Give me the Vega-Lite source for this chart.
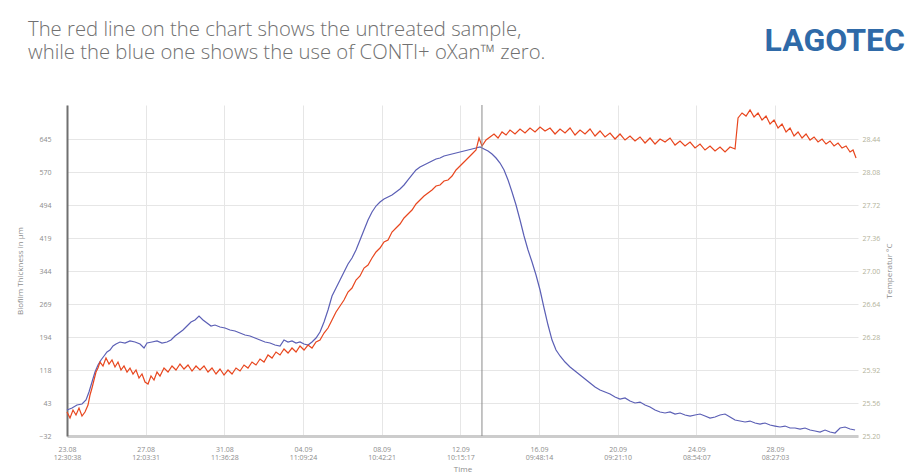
{
  "$schema": "https://vega.github.io/schema/vega-lite/v6.json",
  "width": 791,
  "height": 331,
  "autosize": {"type": "none"},
  "padding": {"left": 67, "top": 105, "right": 51, "bottom": 38},
  "background": "#ffffff",
  "config": {"view": {"stroke": null}, "font": "Open Sans", "axis": {"labelOverlap": false}},
  "title": {
    "text": ["The red line on the chart shows the untreated sample,", "while the blue one shows the use of CONTI+ oXan™ zero."],
    "anchor": "start",
    "frame": "group",
    "dx": -39,
    "offset": -38,
    "font": "Open Sans",
    "fontSize": 20.3,
    "fontWeight": 300,
    "color": "#707070",
    "lineHeight": 23
  },
  "datasets": {
    "untreated": [
      {"d":0,"v":22.7},{"d":0.152,"v":9.0},{"d":0.304,"v":27.2},{"d":0.455,"v":15.8},{"d":0.607,"v":31.8},{"d":0.759,"v":13.5},{"d":0.911,"v":22.7},{"d":1.063,"v":38.6},{"d":1.164,"v":61.4},{"d":1.265,"v":77.3},{"d":1.366,"v":95.6},{"d":1.468,"v":113.8},{"d":1.569,"v":122.9},{"d":1.670,"v":136.6},{"d":1.822,"v":127.5},{"d":1.974,"v":145.7},{"d":2.126,"v":132.0},{"d":2.277,"v":141.2},{"d":2.429,"v":125.2},{"d":2.581,"v":136.6},{"d":2.733,"v":118.4},{"d":2.885,"v":127.5},{"d":3.037,"v":113.8},{"d":3.188,"v":122.9},{"d":3.340,"v":109.3},{"d":3.492,"v":118.4},{"d":3.644,"v":100.1},{"d":3.796,"v":109.3},{"d":3.948,"v":91.0},{"d":4.099,"v":86.5},{"d":4.251,"v":104.7},{"d":4.403,"v":95.6},{"d":4.555,"v":113.8},{"d":4.707,"v":104.7},{"d":4.909,"v":122.9},{"d":5.112,"v":113.8},{"d":5.314,"v":127.5},{"d":5.516,"v":118.4},{"d":5.719,"v":132.0},{"d":5.921,"v":120.6},{"d":6.124,"v":129.8},{"d":6.326,"v":116.1},{"d":6.529,"v":127.5},{"d":6.731,"v":118.4},{"d":6.934,"v":127.5},{"d":7.136,"v":113.8},{"d":7.338,"v":122.9},{"d":7.541,"v":109.3},{"d":7.743,"v":120.6},{"d":7.946,"v":107.0},{"d":8.148,"v":118.4},{"d":8.351,"v":109.3},{"d":8.553,"v":122.9},{"d":8.756,"v":116.1},{"d":8.958,"v":129.8},{"d":9.160,"v":122.9},{"d":9.363,"v":136.6},{"d":9.565,"v":129.8},{"d":9.768,"v":143.4},{"d":9.970,"v":136.6},{"d":10.173,"v":152.6},{"d":10.375,"v":145.7},{"d":10.577,"v":159.4},{"d":10.780,"v":152.6},{"d":10.982,"v":166.2},{"d":11.185,"v":157.1},{"d":11.387,"v":168.5},{"d":11.590,"v":159.4},{"d":11.792,"v":173.1},{"d":11.995,"v":163.9},{"d":12.197,"v":175.3},{"d":12.399,"v":168.5},{"d":12.602,"v":182.2},{"d":12.804,"v":186.7},{"d":13.007,"v":202.7},{"d":13.209,"v":214.1},{"d":13.412,"v":232.3},{"d":13.614,"v":250.6},{"d":13.817,"v":264.2},{"d":14.019,"v":277.9},{"d":14.221,"v":296.1},{"d":14.424,"v":305.2},{"d":14.626,"v":323.5},{"d":14.829,"v":332.6},{"d":15.031,"v":350.8},{"d":15.234,"v":357.7},{"d":15.436,"v":373.6},{"d":15.638,"v":387.3},{"d":15.841,"v":396.4},{"d":16.043,"v":410.1},{"d":16.246,"v":414.6},{"d":16.448,"v":432.9},{"d":16.651,"v":442.0},{"d":16.853,"v":451.1},{"d":17.056,"v":464.8},{"d":17.258,"v":473.9},{"d":17.460,"v":483.0},{"d":17.663,"v":496.7},{"d":17.865,"v":505.8},{"d":18.068,"v":514.9},{"d":18.270,"v":521.8},{"d":18.473,"v":528.6},{"d":18.675,"v":537.7},{"d":18.878,"v":540.0},{"d":19.080,"v":549.1},{"d":19.282,"v":551.4},{"d":19.485,"v":560.5},{"d":19.687,"v":574.2},{"d":19.890,"v":583.3},{"d":20.092,"v":592.4},{"d":20.295,"v":601.5},{"d":20.497,"v":610.6},{"d":20.699,"v":619.7},{"d":20.851,"v":647.1},{"d":21.003,"v":628.9},{"d":21.206,"v":642.5},{"d":21.408,"v":649.4},{"d":21.610,"v":656.2},{"d":21.813,"v":647.1},{"d":22.015,"v":660.8},{"d":22.218,"v":653.9},{"d":22.420,"v":665.3},{"d":22.673,"v":656.2},{"d":22.926,"v":667.6},{"d":23.179,"v":658.5},{"d":23.432,"v":669.9},{"d":23.685,"v":660.8},{"d":23.939,"v":672.2},{"d":24.192,"v":663.1},{"d":24.445,"v":669.9},{"d":24.698,"v":656.2},{"d":24.951,"v":667.6},{"d":25.204,"v":658.5},{"d":25.457,"v":669.9},{"d":25.710,"v":653.9},{"d":25.963,"v":665.3},{"d":26.216,"v":656.2},{"d":26.469,"v":667.6},{"d":26.722,"v":651.7},{"d":26.975,"v":663.1},{"d":27.228,"v":649.4},{"d":27.481,"v":658.5},{"d":27.734,"v":644.8},{"d":27.987,"v":656.2},{"d":28.240,"v":642.5},{"d":28.493,"v":651.7},{"d":28.746,"v":640.3},{"d":28.999,"v":649.4},{"d":29.253,"v":635.7},{"d":29.506,"v":647.1},{"d":29.759,"v":633.4},{"d":30.012,"v":644.8},{"d":30.265,"v":638.0},{"d":30.518,"v":647.1},{"d":30.771,"v":631.1},{"d":31.024,"v":640.3},{"d":31.277,"v":628.9},{"d":31.530,"v":638.0},{"d":31.783,"v":624.3},{"d":32.036,"v":633.4},{"d":32.289,"v":619.7},{"d":32.542,"v":628.9},{"d":32.795,"v":617.5},{"d":33.048,"v":626.6},{"d":33.301,"v":615.2},{"d":33.554,"v":626.6},{"d":33.807,"v":622.0},{"d":33.959,"v":692.7},{"d":34.162,"v":704.1},{"d":34.364,"v":697.2},{"d":34.567,"v":710.9},{"d":34.769,"v":695.0},{"d":34.972,"v":704.1},{"d":35.174,"v":688.1},{"d":35.376,"v":697.2},{"d":35.579,"v":679.0},{"d":35.781,"v":688.1},{"d":35.984,"v":669.9},{"d":36.186,"v":679.0},{"d":36.389,"v":660.8},{"d":36.591,"v":669.9},{"d":36.793,"v":651.7},{"d":36.996,"v":660.8},{"d":37.198,"v":647.1},{"d":37.401,"v":656.2},{"d":37.603,"v":642.5},{"d":37.806,"v":649.4},{"d":38.008,"v":638.0},{"d":38.211,"v":644.8},{"d":38.413,"v":633.4},{"d":38.615,"v":640.3},{"d":38.818,"v":628.9},{"d":39.020,"v":635.7},{"d":39.223,"v":624.3},{"d":39.425,"v":628.9},{"d":39.628,"v":615.2},{"d":39.779,"v":619.7},{"d":39.931,"v":601.5}
    ],
    "treated": [
      {"d":0,"v":27.2},{"d":0.253,"v":31.8},{"d":0.506,"v":38.6},{"d":0.759,"v":40.9},{"d":0.962,"v":50.0},{"d":1.113,"v":68.2},{"d":1.265,"v":91.0},{"d":1.417,"v":113.8},{"d":1.569,"v":129.8},{"d":1.721,"v":141.2},{"d":1.873,"v":150.3},{"d":2.024,"v":159.4},{"d":2.176,"v":163.9},{"d":2.328,"v":173.1},{"d":2.480,"v":177.6},{"d":2.682,"v":182.2},{"d":2.935,"v":179.9},{"d":3.188,"v":184.5},{"d":3.441,"v":182.2},{"d":3.695,"v":177.6},{"d":3.897,"v":168.5},{"d":4.049,"v":179.9},{"d":4.302,"v":182.2},{"d":4.555,"v":184.5},{"d":4.808,"v":179.9},{"d":5.061,"v":182.2},{"d":5.263,"v":186.7},{"d":5.466,"v":195.9},{"d":5.668,"v":202.7},{"d":5.871,"v":209.5},{"d":6.073,"v":218.6},{"d":6.276,"v":227.8},{"d":6.478,"v":232.3},{"d":6.681,"v":241.4},{"d":6.883,"v":232.3},{"d":7.085,"v":225.5},{"d":7.288,"v":218.6},{"d":7.490,"v":220.9},{"d":7.743,"v":216.4},{"d":7.996,"v":214.1},{"d":8.249,"v":209.5},{"d":8.502,"v":207.3},{"d":8.756,"v":202.7},{"d":9.009,"v":198.1},{"d":9.262,"v":195.9},{"d":9.515,"v":191.3},{"d":9.768,"v":186.7},{"d":10.021,"v":182.2},{"d":10.274,"v":179.9},{"d":10.527,"v":175.3},{"d":10.780,"v":173.1},{"d":10.982,"v":186.7},{"d":11.185,"v":182.2},{"d":11.387,"v":184.5},{"d":11.590,"v":179.9},{"d":11.792,"v":182.2},{"d":11.995,"v":177.6},{"d":12.197,"v":175.3},{"d":12.399,"v":182.2},{"d":12.602,"v":191.3},{"d":12.804,"v":205.0},{"d":13.007,"v":227.8},{"d":13.209,"v":255.1},{"d":13.412,"v":287.0},{"d":13.614,"v":305.2},{"d":13.817,"v":323.5},{"d":14.019,"v":341.7},{"d":14.221,"v":359.9},{"d":14.424,"v":373.6},{"d":14.626,"v":391.8},{"d":14.829,"v":414.6},{"d":15.031,"v":437.4},{"d":15.234,"v":460.2},{"d":15.436,"v":478.5},{"d":15.638,"v":492.1},{"d":15.841,"v":501.2},{"d":16.043,"v":508.1},{"d":16.246,"v":512.6},{"d":16.448,"v":517.2},{"d":16.651,"v":524.0},{"d":16.853,"v":530.9},{"d":17.056,"v":540.0},{"d":17.258,"v":551.4},{"d":17.460,"v":562.8},{"d":17.663,"v":574.2},{"d":17.865,"v":581.0},{"d":18.068,"v":585.6},{"d":18.270,"v":590.1},{"d":18.473,"v":594.7},{"d":18.675,"v":599.2},{"d":18.878,"v":601.5},{"d":19.080,"v":606.1},{"d":19.282,"v":608.4},{"d":19.485,"v":610.6},{"d":19.687,"v":612.9},{"d":19.890,"v":615.2},{"d":20.092,"v":617.5},{"d":20.295,"v":619.7},{"d":20.497,"v":622.0},{"d":20.699,"v":624.3},{"d":20.902,"v":626.6},{"d":21.104,"v":622.0},{"d":21.307,"v":617.5},{"d":21.509,"v":610.6},{"d":21.712,"v":601.5},{"d":21.914,"v":590.1},{"d":22.117,"v":574.2},{"d":22.319,"v":551.4},{"d":22.521,"v":524.0},{"d":22.724,"v":494.4},{"d":22.926,"v":460.2},{"d":23.129,"v":423.8},{"d":23.331,"v":391.8},{"d":23.534,"v":364.5},{"d":23.736,"v":334.9},{"d":23.939,"v":300.7},{"d":24.141,"v":259.7},{"d":24.343,"v":220.9},{"d":24.546,"v":186.7},{"d":24.748,"v":163.9},{"d":24.951,"v":150.3},{"d":25.204,"v":136.6},{"d":25.457,"v":125.2},{"d":25.710,"v":116.1},{"d":25.963,"v":107.0},{"d":26.216,"v":97.9},{"d":26.469,"v":88.7},{"d":26.722,"v":79.6},{"d":26.975,"v":72.8},{"d":27.228,"v":68.2},{"d":27.481,"v":63.7},{"d":27.734,"v":56.8},{"d":27.987,"v":52.3},{"d":28.240,"v":54.6},{"d":28.493,"v":47.7},{"d":28.746,"v":43.2},{"d":28.999,"v":45.4},{"d":29.253,"v":38.6},{"d":29.506,"v":34.0},{"d":29.759,"v":27.2},{"d":30.012,"v":22.7},{"d":30.265,"v":20.4},{"d":30.518,"v":22.7},{"d":30.771,"v":18.1},{"d":31.024,"v":20.4},{"d":31.277,"v":15.8},{"d":31.530,"v":13.5},{"d":31.783,"v":15.8},{"d":32.036,"v":18.1},{"d":32.289,"v":13.5},{"d":32.542,"v":9.0},{"d":32.795,"v":11.3},{"d":33.048,"v":15.8},{"d":33.301,"v":18.1},{"d":33.554,"v":11.3},{"d":33.807,"v":4.4},{"d":34.060,"v":2.1},{"d":34.314,"v":-0.1},{"d":34.567,"v":2.1},{"d":34.820,"v":-2.4},{"d":35.073,"v":-4.7},{"d":35.326,"v":-2.4},{"d":35.579,"v":-7.0},{"d":35.832,"v":-9.3},{"d":36.085,"v":-11.5},{"d":36.338,"v":-9.3},{"d":36.591,"v":-13.8},{"d":36.844,"v":-13.8},{"d":37.097,"v":-16.1},{"d":37.350,"v":-13.8},{"d":37.603,"v":-18.4},{"d":37.856,"v":-20.6},{"d":38.109,"v":-22.9},{"d":38.362,"v":-18.4},{"d":38.615,"v":-22.9},{"d":38.868,"v":-25.2},{"d":39.122,"v":-13.8},{"d":39.375,"v":-11.5},{"d":39.628,"v":-16.1},{"d":39.881,"v":-18.4}
    ]
  },
  "layer": [
    {
      "layer": [
        {
          "data": {"name": "treated"},
          "mark": {"type": "line", "color": "#5b5fb5", "strokeWidth": 1.2},
          "encoding": {
            "x": {
              "field": "d", "type": "quantitative", "title": "Time",
              "scale": {"domain": [0, 40.03], "nice": false, "zero": false},
              "axis": {
                "title": "Time",
                "values": [0, 3.98117, 7.96238, 11.94359, 15.9248, 19.90601, 23.88722, 27.86843, 31.84964, 35.83085],
                "labelExpr": "[timeFormat(time(datetime(2021,7,23,12,30,38)) + round(datum.value*86400)*1000, '%d.%m'), timeFormat(time(datetime(2021,7,23,12,30,38)) + round(datum.value*86400)*1000, '%H:%M:%S')]",
                "labelFontSize": 7, "labelColor": "#8c8c8c", "labelLineHeight": 8, "labelPadding": 9,
                "labelFlush": false, "labelOverlap": false,
                "domainColor": "#cccccc", "domainWidth": 3,
                "ticks": false,
                "grid": true, "gridColor": "#e6e6e6",
                "titleFontSize": 8, "titleColor": "#8c8c8c", "titleFontWeight": "normal", "titlePadding": 5
              }
            },
            "y": {
              "field": "v", "type": "quantitative", "title": "Biofilm Thickness in µm",
              "scale": {"domain": [-32, 722.3], "nice": false, "zero": false},
              "axis": {
                "title": "Biofilm Thickness in µm",
                "values": [-32, 43.2, 118.4, 193.6, 268.8, 344, 419.2, 494.4, 569.6, 644.8],
                "format": "d",
                "labelOverlap": false,
                "labelFontSize": 7, "labelColor": "#8c8c8c", "labelPadding": 16,
                "domainColor": "#707070", "domainWidth": 2,
                "ticks": false,
                "grid": true, "gridColor": "#e6e6e6",
                "titleFontSize": 8, "titleColor": "#8c8c8c", "titleFontWeight": "normal", "titlePadding": 14
              }
            }
          }
        },
        {
          "data": {"name": "untreated"},
          "mark": {"type": "line", "color": "#e8461e", "strokeWidth": 1.2},
          "encoding": {
            "x": {
              "field": "d", "type": "quantitative", "title": "Time",
              "axis": {
                "title": "Time",
                "values": [0, 3.98117, 7.96238, 11.94359, 15.9248, 19.90601, 23.88722, 27.86843, 31.84964, 35.83085],
                "labelExpr": "[timeFormat(time(datetime(2021,7,23,12,30,38)) + round(datum.value*86400)*1000, '%d.%m'), timeFormat(time(datetime(2021,7,23,12,30,38)) + round(datum.value*86400)*1000, '%H:%M:%S')]",
                "labelFontSize": 7, "labelColor": "#8c8c8c", "labelLineHeight": 8, "labelPadding": 9,
                "labelFlush": false, "labelOverlap": false,
                "domainColor": "#cccccc", "domainWidth": 3,
                "ticks": false,
                "grid": true, "gridColor": "#e6e6e6",
                "titleFontSize": 8, "titleColor": "#8c8c8c", "titleFontWeight": "normal", "titlePadding": 5
              }
            },
            "y": {
              "field": "v", "type": "quantitative", "title": "Biofilm Thickness in µm",
              "axis": {
                "title": "Biofilm Thickness in µm",
                "values": [-32, 43.2, 118.4, 193.6, 268.8, 344, 419.2, 494.4, 569.6, 644.8],
                "format": "d",
                "labelOverlap": false,
                "labelFontSize": 7, "labelColor": "#8c8c8c", "labelPadding": 16,
                "domainColor": "#707070", "domainWidth": 2,
                "ticks": false,
                "grid": true, "gridColor": "#e6e6e6",
                "titleFontSize": 8, "titleColor": "#8c8c8c", "titleFontWeight": "normal", "titlePadding": 14
              }
            }
          }
        },
        {
          "data": {"values": [{"d": 21.0}]},
          "mark": {"type": "rule", "color": "#8a8a8a", "strokeWidth": 1},
          "encoding": {"x": {"field": "d", "type": "quantitative", "title": "Time"}}
        }
      ]
    },
    {
      "layer": [
        {
          "data": {"values": [{"t": 25.2}, {"t": 28.44}]},
          "mark": {"type": "tick", "opacity": 0},
          "encoding": {
            "y": {
              "field": "t", "type": "quantitative", "title": "Temperatur °C",
              "scale": {"domain": [25.2, 28.811], "nice": false, "zero": false},
              "axis": {
                "orient": "right",
                "title": "Temperatur °C",
                "values": [25.2, 25.56, 25.92, 26.28, 26.64, 27.0, 27.36, 27.72, 28.08, 28.44],
                "format": ".2f",
                "labelOverlap": false,
                "labelFontSize": 7, "labelColor": "#b3b29a", "labelPadding": 4,
                "domain": false, "ticks": false, "grid": false,
                "titleFontSize": 8, "titleColor": "#8c8c8c", "titleFontWeight": "normal", "titlePadding": 14, "titleAngle": 270
              }
            }
          }
        },
        {
          "data": {"values": [{"brand": "LAGOTEC"}]},
          "mark": {"type": "text", "align": "right", "baseline": "alphabetic", "font": "Roboto", "fontWeight": "bold", "fontSize": 32, "color": "#2f6aa8"},
          "encoding": {
            "x": {"datum": 42.41, "type": "quantitative", "title": "Time"},
            "y": {
              "datum": 29.4, "type": "quantitative", "title": "Temperatur °C",
              "axis": {
                "orient": "right",
                "title": "Temperatur °C",
                "values": [25.2, 25.56, 25.92, 26.28, 26.64, 27.0, 27.36, 27.72, 28.08, 28.44],
                "format": ".2f",
                "labelOverlap": false,
                "labelFontSize": 7, "labelColor": "#b3b29a", "labelPadding": 4,
                "domain": false, "ticks": false, "grid": false,
                "titleFontSize": 8, "titleColor": "#8c8c8c", "titleFontWeight": "normal", "titlePadding": 14, "titleAngle": 270
              }
            },
            "text": {"field": "brand"}
          }
        }
      ]
    }
  ],
  "resolve": {"scale": {"y": "independent"}, "axis": {"y": "independent"}}
}
